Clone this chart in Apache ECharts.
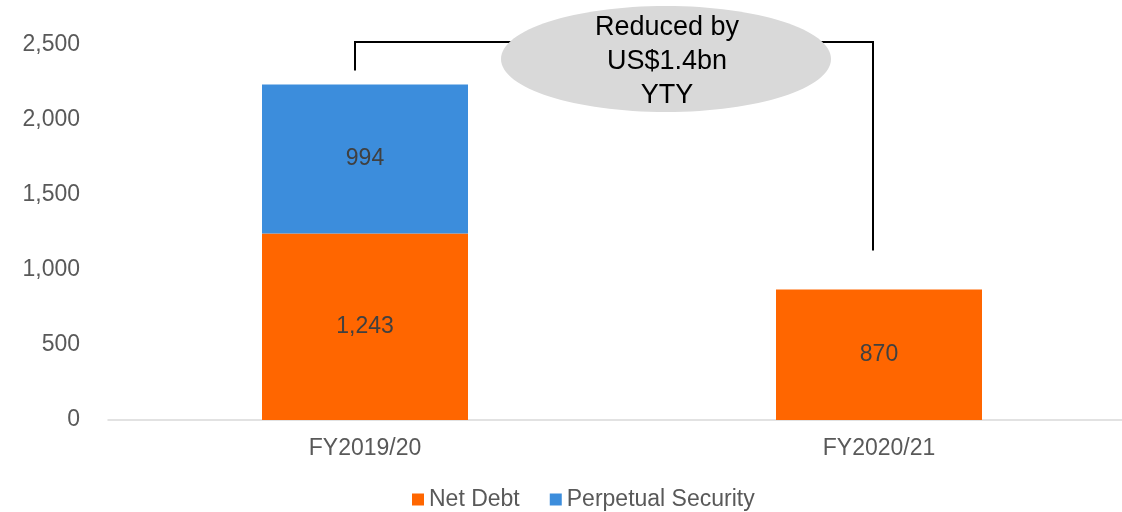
<!DOCTYPE html>
<html><head><meta charset="utf-8">
<script src="https://cdn.jsdelivr.net/npm/echarts@6/dist/echarts.min.js"></script>
<style>html,body{margin:0;padding:0;background:#fff}#c{width:1122px;height:512px}</style>
</head><body><div id="c"></div>
<script>
const categories = ['FY2019/20', 'FY2020/21'];
const netDebt = [1243, 870];
const perpetual = [994, null];
const yTicks = [0, 500, 1000, 1500, 2000, 2500];
const annotationText = 'Reduced by\nUS$1.4bn\nYTY';
const bracketLevels = { leftFrom: 2330, top: 2520, rightTo: 1130 };

const chart = echarts.init(document.getElementById('c'));
const font = 'Liberation Sans, Arial, sans-serif';
const option = {
  animation: false,
  textStyle: { fontFamily: font },
  grid: { left: 108, top: 45, width: 1028, bottom: 92, outerBoundsMode: 'none', containLabel: false },
  legend: {
    bottom: -4, left: 407, itemWidth: 12, itemHeight: 12, itemGap: 30,
    icon: 'rect',
    textStyle: { fontSize: 23, color: '#595959', fontFamily: font },
    data: ['Net Debt', 'Perpetual Security']
  },
  xAxis: {
    type: 'category', data: categories,
    axisLine: { lineStyle: { color: '#D9D9D9', width: 1.5 } },
    axisTick: { show: false },
    axisLabel: { fontSize: 23, color: '#595959', margin: 17, fontFamily: font }
  },
  yAxis: {
    type: 'value', min: yTicks[0], max: yTicks[yTicks.length - 1], interval: 500,
    axisLine: { show: false }, axisTick: { show: false },
    splitLine: { show: false },
    axisLabel: { fontSize: 23, color: '#595959', margin: 28, fontFamily: font,
      formatter: v => v.toLocaleString('en-US') }
  },
  series: [
    { name: 'Net Debt', type: 'bar', stack: 'a', data: netDebt, barWidth: 206,
      itemStyle: { color: '#FF6600' },
      label: { show: true, position: 'inside', fontSize: 23, color: '#404040', fontFamily: font,
        formatter: p => p.value.toLocaleString('en-US') } },
    { name: 'Perpetual Security', type: 'bar', stack: 'a', data: perpetual, barWidth: 206,
      itemStyle: { color: '#3C8DDC' },
      label: { show: true, position: 'inside', fontSize: 23, color: '#404040', fontFamily: font,
        formatter: p => p.value.toLocaleString('en-US') } }
  ]
};
chart.setOption(option);

const pL1 = chart.convertToPixel({ gridIndex: 0 }, [0, bracketLevels.leftFrom]);
const pT = chart.convertToPixel({ gridIndex: 0 }, [0, bracketLevels.top]);
const pR = chart.convertToPixel({ gridIndex: 0 }, [1, bracketLevels.rightTo]);
const xl = pL1[0] - 10, xr = pR[0] - 6, yt = pT[1];
const cx = (xl + xr) / 2 + 52;
chart.setOption({
  graphic: [
    { type: 'polyline', z: 10, shape: { points: [[xl, pL1[1]], [xl, yt], [xr, yt], [xr, pR[1]]] },
      style: { stroke: '#000', lineWidth: 2, fill: null } },
    { type: 'ellipse', z: 11, shape: { cx: cx, cy: 59, rx: 165, ry: 53 },
      style: { fill: '#D9D9D9' } },
    { type: 'text', z: 12, x: cx + 1, y: 62,
      style: { text: annotationText, fontSize: 27, lineHeight: 34, fill: '#000', fontFamily: font,
        align: 'center', verticalAlign: 'middle' } }
  ]
});
</script></body></html>
